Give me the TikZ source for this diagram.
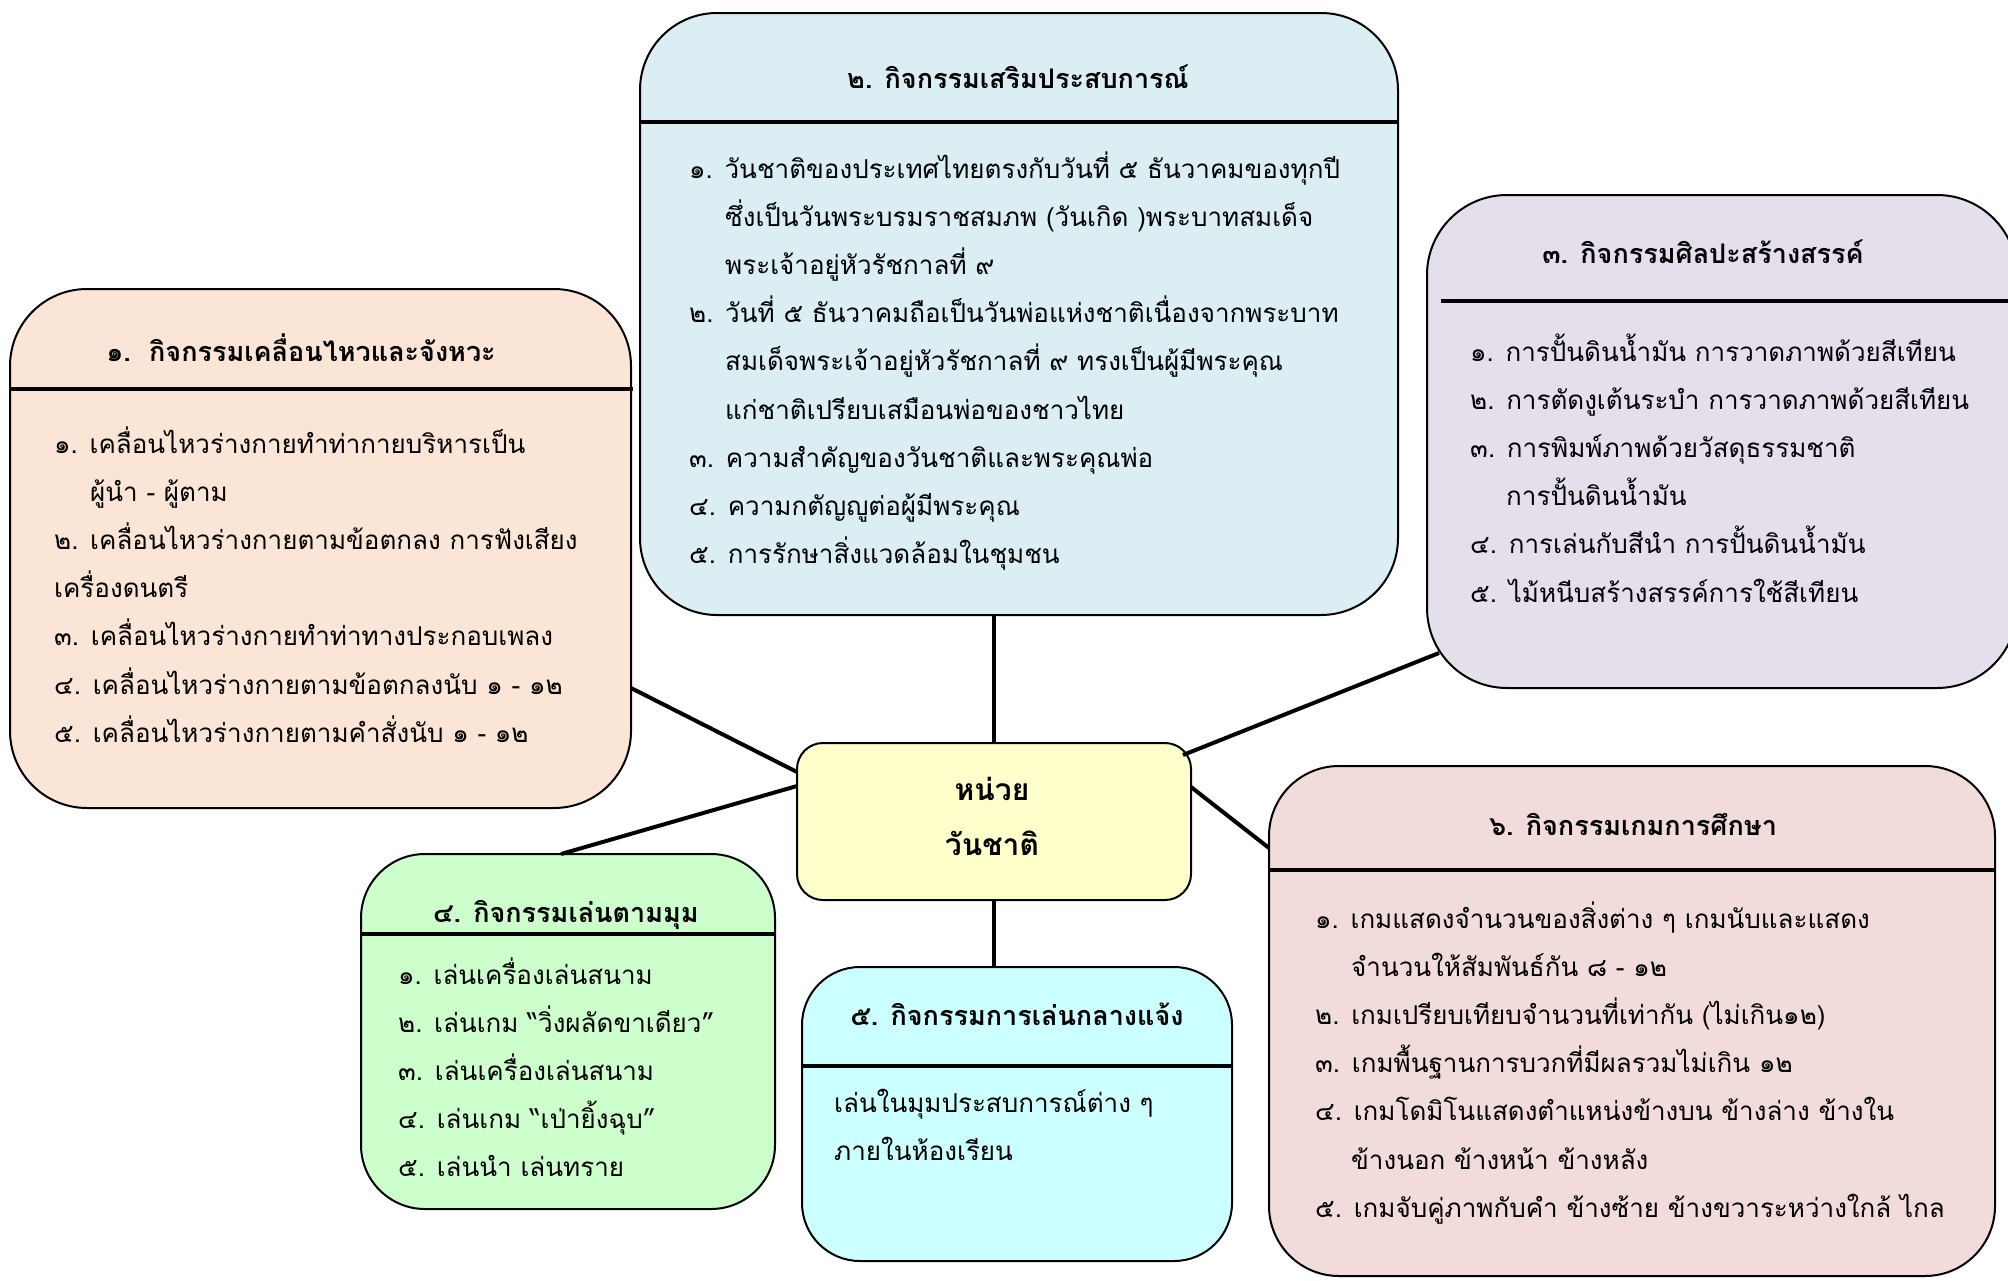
\documentclass[tikz,border=0pt]{standalone}
\usepackage{fontspec}
\newfontfamily\thai[Script=Thai]{Loma}
\usetikzlibrary{calc}
\definecolor{cOne}{HTML}{FBE5D6}
\definecolor{cTwo}{HTML}{DAEEF3}
\definecolor{cThree}{HTML}{E5DFEC}
\definecolor{cFour}{HTML}{CCFFCC}
\definecolor{cFive}{HTML}{CCFFFF}
\definecolor{cSix}{HTML}{F2DCDB}
\definecolor{cMid}{HTML}{FFFFCC}
\begin{document}
\begin{tikzpicture}[x=1pt,y=-1pt,
  box/.style={draw=black, line width=2pt, rounded corners=#1, inner sep=0pt, outer sep=0pt},
  divider/.style={line width=4pt},
  link/.style={line width=4pt},
  ttl/.style={anchor=base, inner sep=0pt, font={\thai\bfseries\fontsize{27}{30}\selectfont}},
  body/.style={anchor=base west, inner sep=0pt, align=left, font={\thai\fontsize{26}{48.2}\selectfont}}]
\useasboundingbox (0,0) rectangle (2008,1280);
% boxes
\node[box=77, fill=cOne, minimum width=621pt, minimum height=519pt] (b1) at (320.5,548.5) {};
\node[box=77, fill=cTwo, minimum width=758pt, minimum height=602pt] (b2) at (1019,314) {};
\node[box=80, fill=cThree, minimum width=590pt, minimum height=493pt] (b3) at (1722,441.5) {};
\node[box=26, fill=cMid, minimum width=394pt, minimum height=157pt] (c) at (994,821.5) {};
\node[box=64, fill=cFour, minimum width=414pt, minimum height=355pt] (b4) at (568,1031.5) {};
\node[box=58, fill=cFive, minimum width=430pt, minimum height=294pt] (b5) at (1017,1114) {};
\node[box=70, fill=cSix, minimum width=726pt, minimum height=510pt] (b6) at (1632,1021) {};
% dividers
\draw[divider] ($(b1.north west)+(0,100)$) -- ($(b1.north east)+(2,100)$);
\draw[divider] ($(b2.north west)+(0,109)$) -- ($(b2.north east)+(0,109)$);
\draw[divider] ($(b3.north west)+(14,106)$) -- ($(b3.north east)+(0,106)$);
\draw[divider] ($(b4.north west)+(0,80)$) -- ($(b4.north east)+(0,80)$);
\draw[divider] ($(b5.north west)+(0,99)$) -- ($(b5.north east)+(0,99)$);
\draw[divider] ($(b6.north west)+(0,104)$) -- ($(b6.north east)+(0,104)$);
% connectors
\draw[link] (c.north) -- (c.north |- b2.south);
\draw[link] (c.south) -- (c.south |- b5.north);
\draw[link] ($(b1.east)+(0,139.5)$) -- ($(c.west)+(0,-49.5)$);
\draw[link] ($(b4.north)+(-7,0)$) -- ($(c.west)+(0,-35.5)$);
\draw[link] ($(b3.south west)+(12,-35)$) -- ($(c.north east)+(-8,12)$);
\draw[link] ($(b6.west)+(0,-173)$) -- ($(c.east)+(0,-34.5)$);
% titles
\node[ttl] (t1) at (301,361) {๑.\ \ กิจกรรมเคลื่อนไหวและจังหวะ};
\node[ttl] (t2) at (1018,88) {๒. กิจกรรมเสริมประสบการณ์};
\node[ttl] (t3) at (1703,263) {๓. กิจกรรมศิลปะสร้างสรรค์};
\node[ttl] (t4) at (566,922) {๔. กิจกรรมเล่นตามมุม};
\node[ttl] (t5) at (1017,1025) {๕. กิจกรรมการเล่นกลางแจ้ง};
\node[ttl] (t6) at (1633,835) {๖. กิจกรรมเกมการศึกษา};
\node[anchor=base, inner sep=0pt, align=center, font={\thai\bfseries\fontsize{30}{55}\selectfont}] (ct) at (992,855) {หน่วย\\วันชาติ};
% bodies (anchor = baseline of last line)
\node[body] (x1) at (54,742.2) {%
๑. เคลื่อนไหวร่างกายทำท่ากายบริหารเป็น\\
\hspace*{36pt}ผู้นำ - ผู้ตาม\\
๒. เคลื่อนไหวร่างกายตามข้อตกลง การฟังเสียง\\
เครื่องดนตรี\\
๓. เคลื่อนไหวร่างกายทำท่าทางประกอบเพลง\\
๔. เคลื่อนไหวร่างกายตามข้อตกลงนับ ๑ - ๑๒\\
๕. เคลื่อนไหวร่างกายตามคำสั่งนับ ๑ - ๑๒};
\node[body] (x2) at (689,563.6) {%
๑. วันชาติของประเทศไทยตรงกับวันที่ ๕ ธันวาคมของทุกปี\\
\hspace*{36pt}ซึ่งเป็นวันพระบรมราชสมภพ (วันเกิด )พระบาทสมเด็จ\\
\hspace*{36pt}พระเจ้าอยู่หัวรัชกาลที่ ๙\\
๒. วันที่ ๕ ธันวาคมถือเป็นวันพ่อแห่งชาติเนื่องจากพระบาท\\
\hspace*{36pt}สมเด็จพระเจ้าอยู่หัวรัชกาลที่ ๙ ทรงเป็นผู้มีพระคุณ\\
\hspace*{36pt}แก่ชาติเปรียบเสมือนพ่อของชาวไทย\\
๓. ความสำคัญของวันชาติและพระคุณพ่อ\\
๔. ความกตัญญูต่อผู้มีพระคุณ\\
๕. การรักษาสิ่งแวดล้อมในชุมชน};
\node[body] (x3) at (1470,602) {%
๑. การปั้นดินน้ำมัน การวาดภาพด้วยสีเทียน\\
๒. การตัดงูเต้นระบำ การวาดภาพด้วยสีเทียน\\
๓. การพิมพ์ภาพด้วยวัสดุธรรมชาติ\\
\hspace*{36pt}การปั้นดินน้ำมัน\\
๔. การเล่นกับสีนำ การปั้นดินน้ำมัน\\
๕. ไม้หนีบสร้างสรรค์การใช้สีเทียน};
\node[body] (x4) at (398,1176.8) {%
๑. เล่นเครื่องเล่นสนาม\\
๒. เล่นเกม “วิ่งผลัดขาเดียว”\\
๓. เล่นเครื่องเล่นสนาม\\
๔. เล่นเกม “เป่ายิ้งฉุบ”\\
๕. เล่นนำ เล่นทราย};
\node[body] (x5) at (834,1160.2) {%
เล่นในมุมประสบการณ์ต่าง ๆ\\
ภายในห้องเรียน};
\node[body] (x6) at (1315,1217.2) {%
๑. เกมแสดงจำนวนของสิ่งต่าง ๆ เกมนับและแสดง\\
\hspace*{36pt}จำนวนให้สัมพันธ์กัน ๘ - ๑๒\\
๒. เกมเปรียบเทียบจำนวนที่เท่ากัน (ไม่เกิน๑๒)\\
๓. เกมพื้นฐานการบวกที่มีผลรวมไม่เกิน ๑๒\\
๔. เกมโดมิโนแสดงตำแหน่งข้างบน ข้างล่าง ข้างใน\\
\hspace*{36pt}ข้างนอก ข้างหน้า ข้างหลัง\\
๕. เกมจับคู่ภาพกับคำ ข้างซ้าย ข้างขวาระหว่างใกล้ ไกล};
\end{tikzpicture}
\end{document}
